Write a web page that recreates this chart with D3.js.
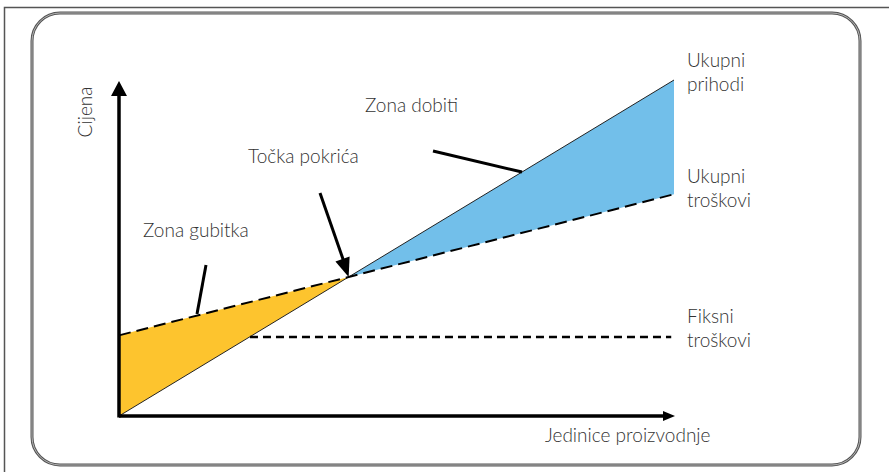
<!DOCTYPE html>
<html>
<head>
<meta charset="utf-8">
<script src="https://cdn.jsdelivr.net/npm/d3@7"></script>
<style>
  body { margin: 0; background: #fff; }
  text { font-family: Lato, "Open Sans", sans-serif; font-weight: 300; fill: #333; }
</style>
</head>
<body>
<svg id="chart"></svg>
<script>
// units produced (0..100) and price/cost levels (0..100)
var units = [0, 100];
var totalRevenue = [0, 100];
var totalCost = [24, 66];
var fixedUnits = [23.6, 99.5];
var fixedCost = [23.5, 23.5];

var labels = {
  yAxis: "Cijena",
  xAxis: "Jedinice proizvodnje",
  revenue: ["Ukupni", "prihodi"],
  cost: ["Ukupni", "troškovi"],
  fixed: ["Fiksni", "troškovi"],
  loss: "Zona gubitka",
  breakEven: "Točka pokrića",
  profit: "Zona dobiti"
};

var W = 889, H = 472;
var svg = d3.select("#chart").attr("width", W).attr("height", H);

var x = d3.scaleLinear().domain([0, 100]).range([119, 674]);
var y = d3.scaleLinear().domain([0, 100]).range([416, 80]);

// frames
svg.append("rect").attr("x", 4.5).attr("y", 7.5).attr("width", 900).attr("height", 480)
  .attr("fill", "none").attr("stroke", "#555").attr("stroke-width", 1.5);
svg.append("rect").attr("x", 32).attr("y", 13).attr("width", 828).attr("height", 452)
  .attr("rx", 28).attr("fill", "none").attr("stroke", "#555").attr("stroke-width", 3);
svg.append("rect").attr("x", 32).attr("y", 13).attr("width", 828).attr("height", 452)
  .attr("rx", 28).attr("fill", "none").attr("stroke", "#ccc").attr("stroke-width", 0.8);

// line helpers
function rev(u) { return totalRevenue[0] + (totalRevenue[1] - totalRevenue[0]) * (u - units[0]) / (units[1] - units[0]); }
function cost(u) { return totalCost[0] + (totalCost[1] - totalCost[0]) * (u - units[0]) / (units[1] - units[0]); }
// break-even where revenue meets total cost
var be = (totalCost[0] - totalRevenue[0]) /
  ((totalRevenue[1] - totalRevenue[0]) - (totalCost[1] - totalCost[0])) * (units[1] - units[0]);

var area = d3.area()
  .x(d => x(d))
  .y0(d => y(rev(d)))
  .y1(d => y(cost(d)));

svg.append("path").datum([units[0], be]).attr("d", area).attr("fill", "#fdc42e");
svg.append("path").datum([be, units[1]]).attr("d", area).attr("fill", "#72bfea");

var line = d3.line().x(d => x(d[0])).y(d => y(d[1]));

// total revenue
svg.append("path").datum(d3.zip(units, totalRevenue)).attr("d", line)
  .attr("fill", "none").attr("stroke", "#222").attr("stroke-width", 1);
// total cost
svg.append("path").datum(d3.zip(units, totalCost)).attr("d", line)
  .attr("fill", "none").attr("stroke", "#000").attr("stroke-width", 2)
  .attr("stroke-dasharray", "12,6");
// fixed costs
svg.append("path").datum(d3.zip(fixedUnits, fixedCost)).attr("d", line)
  .attr("fill", "none").attr("stroke", "#000").attr("stroke-width", 2.5)
  .attr("stroke-dasharray", "8,5");

// axes
svg.append("line").attr("x1", x(0)).attr("y1", y(0)).attr("x2", x(100) - 8).attr("y2", y(0))
  .attr("stroke", "#000").attr("stroke-width", 3.5);
svg.append("line").attr("x1", x(0)).attr("y1", y(0) + 1.5).attr("x2", x(0)).attr("y2", y(100) + 12)
  .attr("stroke", "#000").attr("stroke-width", 3.5);
svg.append("path")
  .attr("d", `M${x(100) + 1},${y(0)} L${x(100) - 11},${y(0) - 5} L${x(100) - 11},${y(0) + 5} Z`)
  .attr("fill", "#000");
svg.append("path")
  .attr("d", `M${x(0)},${y(100) + 1} L${x(0) - 8},${y(100) + 16} L${x(0) + 8},${y(100) + 16} Z`)
  .attr("fill", "#000");

// leader lines
svg.append("line").attr("x1", 206).attr("y1", 265).attr("x2", 197).attr("y2", 314)
  .attr("stroke", "#000").attr("stroke-width", 3);
svg.append("line").attr("x1", 433).attr("y1", 151).attr("x2", 522).attr("y2", 172)
  .attr("stroke", "#000").attr("stroke-width", 3);
// break-even arrow
var bx = x(be), by = y(rev(be));
svg.append("line").attr("x1", 320).attr("y1", 193).attr("x2", bx - 5).attr("y2", by - 16)
  .attr("stroke", "#000").attr("stroke-width", 3);
var ang = Math.atan2(by - 193, bx - 320);
function rot(px, py) {
  return [bx + px * Math.cos(ang) - py * Math.sin(ang), by + px * Math.sin(ang) + py * Math.cos(ang)];
}
svg.append("path")
  .attr("d", "M" + [rot(0, 0), rot(-19, -7.5), rot(-19, 7.5)].map(p => p.join(",")).join("L") + "Z")
  .attr("fill", "#000");

// text
function label(lines, tx, ty) {
  var t = svg.append("text").attr("x", tx).attr("y", ty).attr("font-size", 19);
  lines.forEach((s, i) => t.append("tspan").attr("x", tx).attr("dy", i ? 24 : 0).text(s));
}
label(labels.revenue, 687, 67);
label(labels.cost, 687, 183);
label(labels.fixed, 687, 323);
label([labels.loss], 143, 237);
label([labels.breakEven], 248, 163);
label([labels.profit], 365, 112);
label([labels.xAxis], 545, 442);
svg.append("text").attr("transform", "translate(92,112) rotate(-90)")
  .attr("text-anchor", "middle").attr("font-size", 19).text(labels.yAxis);
</script>
</body>
</html>
